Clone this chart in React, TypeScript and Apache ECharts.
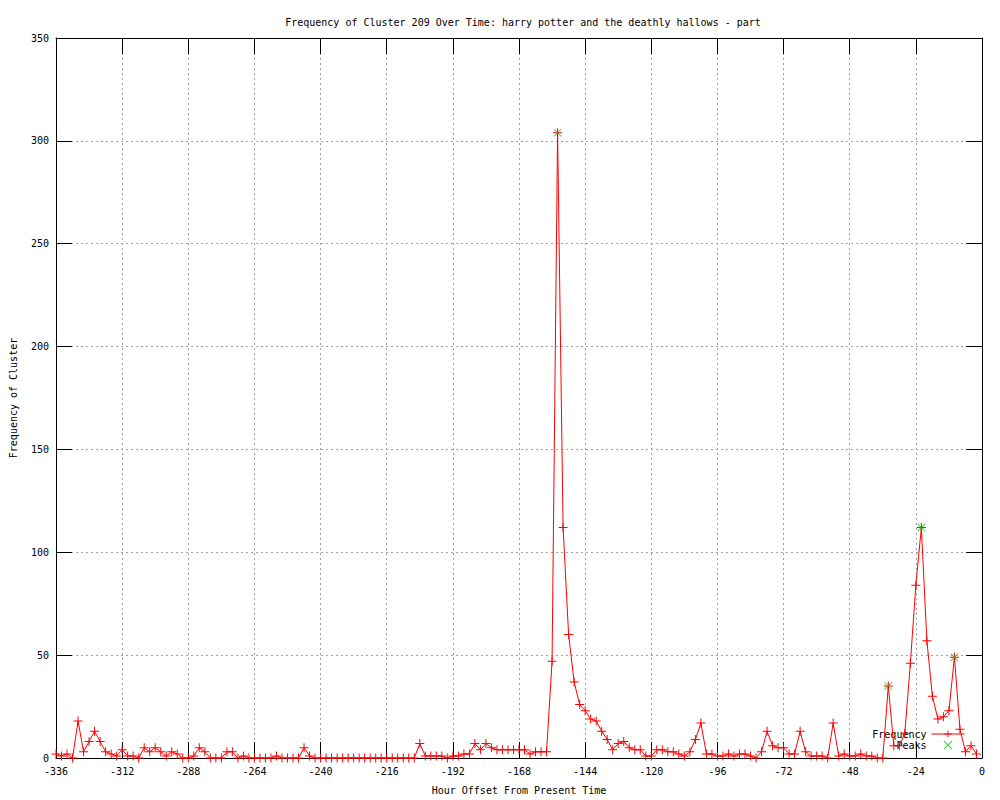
import React, { useEffect, useRef } from "react";
import * as echarts from "echarts";

// Sample grid: every 2 hours starting at -336
const startHour = -336;
const stepHours = 2;

const frequencyValues: number[] = [
  // -336 .. -244
  2, 1, 2, 0, 18, 3, 8, 13, 8, 3,
  2, 1, 4, 1, 1, 0, 5, 3, 5, 3,
  1, 3, 2, 0, 0, 1, 5, 3, 0, 0,
  0, 3, 3, 0, 1, 0, 0, 0, 0, 0,
  1, 0, 0, 0, 0, 5, 1,
  // -242 .. -206
  0, 0, 0, 0, 0, 0, 0, 0, 0, 0,
  0, 0, 0, 0, 0, 0, 0, 0, 0,
  // -204 .. -158
  7, 1, 1, 1, 1, 0, 1, 1, 2, 2,
  7, 4, 7, 5, 4, 4, 4, 4, 4, 4,
  2, 3, 3, 3,
  // -156 .. -2
  47, 304, 112, 60, 37, 26, 23, 19, 18, 13,
  9, 4, 7, 8, 5, 4, 4, 1, 1, 4,
  4, 3, 3, 2, 1, 3, 9, 17, 2, 2,
  1, 1, 2, 1, 2, 2, 1, 0, 3, 13,
  6, 5, 5, 2, 2, 13, 3, 1, 1, 1,
  0, 17, 1, 2, 1, 1, 2, 1, 1, 0,
  0, 35, 6, 6, 12, 46, 84, 112, 57, 30,
  19, 20, 23, 49, 14, 3, 6, 2,
];

const peakHours: number[] = [-154, -34, -22, -10];
const peakValues: number[] = [304, 35, 112, 49];

const titleText =
  "Frequency of Cluster 209 Over Time: harry potter and the deathly hallows - part";
const xAxisTitle = "Hour Offset From Present Time";
const yAxisTitle = "Frequency of Cluster";

const X_MIN = -336;
const X_MAX = 0;
const X_INTERVAL = 24;
const Y_MIN = 0;
const Y_MAX = 350;
const Y_INTERVAL = 50;

const FONT = "'DejaVu Sans Mono', 'Liberation Mono', monospace";

const PLUS = "path://M0,4H9V5H0Z M4,0H5V9H4Z";
const CROSS =
  "path://M0,0.7L0.7,0L9,8.3L8.3,9Z M8.3,0L9,0.7L0.7,9L0,8.3Z";

export default function App() {
  const ref = useRef<HTMLDivElement>(null);

  useEffect(() => {
    document.body.style.margin = "0";
    if (!ref.current) return;
    const chart = echarts.init(ref.current, undefined, { renderer: "svg" });

    const freqData = frequencyValues.map((v, i) => [startHour + i * stepHours, v]);
    const peakData = peakHours.map((h, i) => [h, peakValues[i]]);

    const tickStyle = { show: true, inside: true, length: 16, lineStyle: { color: "#000", width: 1 } };
    const axisLine = { show: true, onZero: false, lineStyle: { color: "#000", width: 1 } };
    const gridLine = { show: true, lineStyle: { color: "#a0a0a0", width: 1, type: [2, 3] as any } };
    const labelStyle = { color: "#000", fontFamily: FONT, fontSize: 10 };

    chart.setOption({
      animation: false,
      backgroundColor: "#fff",
      title: {
        text: titleText,
        left: 518,
        textAlign: "center",
        top: 12,
        textStyle: { color: "#000", fontFamily: FONT, fontSize: 10, fontWeight: "normal" },
      },
      grid: { left: 55, right: 18, top: 38, bottom: 40, containLabel: false },
      legend: {
        orient: "vertical",
        align: "right",
        right: 30,
        top: 724,
        itemWidth: 33,
        itemHeight: 9,
        itemGap: 1,
        lineStyle: { width: 1 },
        textStyle: { color: "#000", fontFamily: FONT, fontSize: 10 },
        data: ["Frequency", "Peaks"],
      },
      xAxis: [
        {
          type: "value",
          position: "bottom",
          min: X_MIN,
          max: X_MAX,
          interval: X_INTERVAL,
          axisLine,
          axisTick: tickStyle,
          splitLine: gridLine,
          axisLabel: { ...labelStyle, margin: 8 },
          name: xAxisTitle,
          nameLocation: "middle",
          nameGap: 27,
          nameTextStyle: labelStyle,
        },
        {
          type: "value",
          position: "top",
          min: X_MIN,
          max: X_MAX,
          interval: X_INTERVAL,
          axisLine,
          axisTick: tickStyle,
          splitLine: { show: false },
          axisLabel: { show: false },
        },
      ],
      yAxis: [
        {
          type: "value",
          position: "left",
          min: Y_MIN,
          max: Y_MAX,
          interval: Y_INTERVAL,
          axisLine,
          axisTick: tickStyle,
          splitLine: gridLine,
          axisLabel: { ...labelStyle, margin: 7 },
          name: yAxisTitle,
          nameLocation: "middle",
          nameRotate: 90,
          nameGap: 38,
          nameTextStyle: labelStyle,
        },
        {
          type: "value",
          position: "right",
          min: Y_MIN,
          max: Y_MAX,
          interval: Y_INTERVAL,
          axisLine,
          axisTick: tickStyle,
          splitLine: { show: false },
          axisLabel: { show: false },
        },
      ],
      series: [
        {
          name: "Frequency",
          type: "line",
          xAxisIndex: 0,
          yAxisIndex: 0,
          data: freqData,
          symbol: PLUS,
          symbolSize: 9,
          showSymbol: true,
          lineStyle: { color: "#ff0000", width: 1 },
          itemStyle: { color: "#ff0000" },
          z: 4,
        },
        {
          name: "Peaks",
          type: "scatter",
          xAxisIndex: 0,
          yAxisIndex: 0,
          data: peakData,
          symbol: CROSS,
          symbolSize: 8,
          itemStyle: { color: "#00c000" },
          z: 5,
        },
      ],
    });

    return () => chart.dispose();
  }, []);

  return <div ref={ref} style={{ width: 1000, height: 800 }} />;
}
